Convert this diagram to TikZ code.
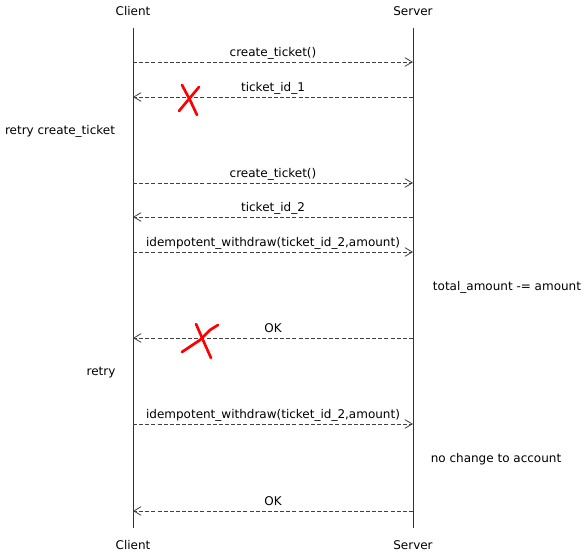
\documentclass[tikz,border=0pt]{standalone}
\usepackage{fontspec}
\setmainfont{DejaVu Sans}
\usetikzlibrary{arrows.meta}

\tikzset{
	life/.style={draw=black!80, line width=0.7pt},
	msg/.style={draw=black!75, line width=0.6pt, dash pattern=on 3pt off 1.6pt, -{Straight Barb[length=5.5pt,width=6.5pt]}},
	lbl/.style={font=\fontsize{9}{11}\selectfont, inner sep=0pt, anchor=base, yshift=3.8pt},
	actor/.style={font=\fontsize{9}{11}\selectfont, inner sep=1pt},
	note/.style={font=\fontsize{9}{11}\selectfont, inner sep=1pt},
	cross/.style={draw=red, line width=2pt, line cap=round, line join=round}
}

\begin{document}
\begin{tikzpicture}[x=0.75pt, y=-0.75pt]
		%%%%% START %%%%%
		\useasboundingbox (0, 0) rectangle (585, 555);
		
		% actors
		\node[actor] (cliTop) at (133, 11) {Client};
		\node[actor] (srvTop) at (413, 11) {Server};
		\node[actor] (cliBot) at (133, 545) {Client};
		\node[actor] (srvBot) at (413, 545) {Server};
		
		% lifelines
		\coordinate (cliStart) at (133, 28);
		\coordinate (cliEnd) at (133, 528);
		\coordinate (srvStart) at (413, 28);
		\coordinate (srvEnd) at (413, 528);
		\draw[life] (cliStart) -- (cliEnd);
		\draw[life] (srvStart) -- (srvEnd);
		
		% message ends
		\coordinate (c1) at (133, 62);   \coordinate (s1) at (413, 62);
		\coordinate (c2) at (133, 97);   \coordinate (s2) at (413, 97);
		\coordinate (c3) at (133, 183);  \coordinate (s3) at (413, 183);
		\coordinate (c4) at (133, 217);  \coordinate (s4) at (413, 217);
		\coordinate (c5) at (133, 252);  \coordinate (s5) at (413, 252);
		\coordinate (c6) at (133, 338);  \coordinate (s6) at (413, 338);
		\coordinate (c7) at (133, 424);  \coordinate (s7) at (413, 424);
		\coordinate (c8) at (133, 511);  \coordinate (s8) at (413, 511);
		
		% first try
		\draw[msg] (c1) -- node[lbl] {create\_ticket()} (s1);
		\draw[msg] (s2) -- node[lbl] {ticket\_id\_1} (c2);
		\draw[cross] (199, 87) -- (189, 99) -- (179, 111);
		\draw[cross] (182, 85) -- (190, 100) -- (197, 115);
		
		\node[note] (retryTicket) at (60, 131) {retry create\_ticket};
		
		% second try
		\draw[msg] (c3) -- node[lbl] {create\_ticket()} (s3);
		\draw[msg] (s4) -- node[lbl] {ticket\_id\_2} (c4);
		\draw[msg] (c5) -- node[lbl] {idempotent\_withdraw(ticket\_id\_2,amount)} (s5);
		
		\node[note] (subtract) at (507, 287) {total\_amount -= amount};
		
		\draw[msg] (s6) -- node[lbl] {OK} (c6);
		\draw[cross] (182, 352) -- (200, 340) -- (210, 330) -- (218, 325);
		\draw[cross] (196, 324) -- (203, 340) -- (211, 358);
		
		\node[note] (retry) at (101, 373) {retry};
		
		% retried withdraw
		\draw[msg] (c7) -- node[lbl] {idempotent\_withdraw(ticket\_id\_2,amount)} (s7);
		
		\node[note] (noChange) at (496, 459) {no change to account};
		
		\draw[msg] (s8) -- node[lbl] {OK} (c8);
		
		%%%%% END %%%%%
\end{tikzpicture}
\end{document}
